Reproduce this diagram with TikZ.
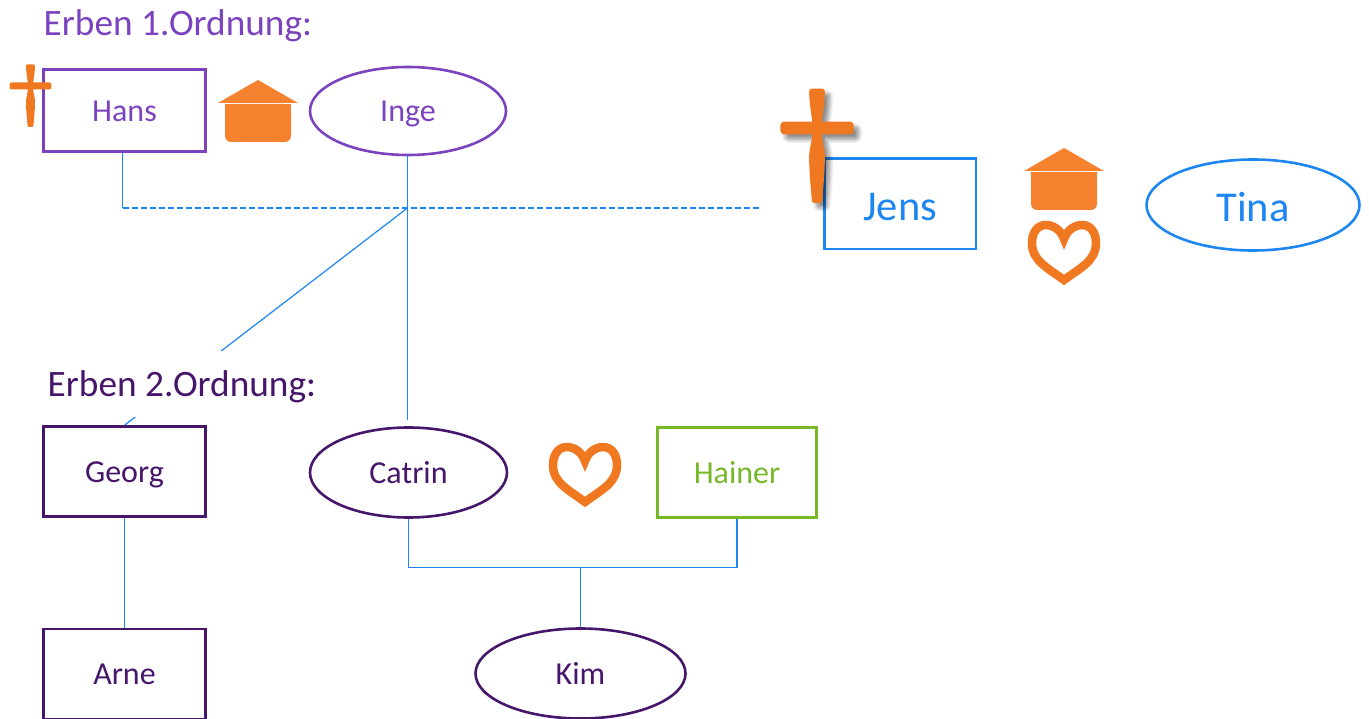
\documentclass[tikz,border=0pt]{standalone}
\usepackage{fontspec}
\setmainfont{Carlito}
\usetikzlibrary{shapes.geometric}
\usetikzlibrary{shadows.blur}
\definecolor{erbe violet}{RGB}{123,67,190}
\definecolor{erbe dark}{RGB}{70,22,107}
\definecolor{erbe blue}{RGB}{30,134,240}
\definecolor{erbe green}{RGB}{118,184,42}
\definecolor{symbol orange}{RGB}{240,120,32}
\definecolor{house orange}{RGB}{246,130,47}
\tikzset{
	kreuz action/.style={},
	kreuz/.pic={
		\path[fill=symbol orange, kreuz action]
			(-4.5,-19) .. controls (-4.5,-21) and (-4,-21.5) .. (-3,-21.5) -- (3,-21.5)
			.. controls (4,-21.5) and (4.5,-21) .. (4.5,-19)
			.. controls (4,-10) and (2.8,-6) .. (2.8,-3.5)
			-- (19,-3.5) .. controls (20.5,-3.5) and (21,-2.5) .. (21,0)
			.. controls (21,2.5) and (20.5,3.5) .. (19,3.5) -- (2.8,3.5)
			.. controls (2.8,8) and (4.5,11) .. (4.5,16)
			.. controls (4.5,24) and (3.5,33) .. (3,39)
			.. controls (3,41) and (2,41) .. (0,41)
			.. controls (-2,41) and (-3,41) .. (-3,39)
			.. controls (-3.5,33) and (-4.5,24) .. (-4.5,16)
			.. controls (-4.5,11) and (-2.8,8) .. (-2.8,3.5)
			-- (-19,3.5) .. controls (-20.5,3.5) and (-21,2.5) .. (-21,0)
			.. controls (-21,-2.5) and (-20.5,-3.5) .. (-19,-3.5) -- (-2.8,-3.5)
			.. controls (-2.8,-6) and (-4,-10) .. (-4.5,-19) -- cycle;
	},
	haus/.pic={
		\fill[house orange] (0,0) -- (40,23) -- (-40,23) -- cycle;
		\fill[house orange, rounded corners=6] (-33,24) -- (33,24) -- (33,62) -- (-33,62) -- cycle;
		\fill[house orange] (-33,24) rectangle (33,40);
	},
	herz/.pic={
		\draw[symbol orange, line width=8.5]
			(0,18) .. controls (-3,9) and (-11,4) .. (-18,4)
			.. controls (-27,4) and (-32,12) .. (-32,22)
			.. controls (-32,40) and (-16,47) .. (0,59)
			.. controls (16,47) and (32,40) .. (32,22)
			.. controls (32,12) and (27,4) .. (18,4)
			.. controls (11,4) and (3,9) .. (0,18) -- cycle;
	},
}
\begin{document}
\begin{tikzpicture}[
		x=1pt, y=-1pt,
		person box/.style={draw, line width=2.6, rectangle, inner sep=0pt},
		person oval/.style={draw, line width=2.6, ellipse, inner sep=0pt},
		heading/.style={font=\fontsize{37.3}{40}\selectfont, inner sep=0pt, text height=28, text depth=4},
		small name/.style={font=\fontsize{32}{34}\selectfont, text height=24, text depth=3},
		large name/.style={font=\fontsize{42.5}{45}\selectfont, text height=36, text depth=3},
		conn/.style={erbe blue, line width=1.2},
	]
	\useasboundingbox (0,0) rectangle (1369,719);

	% Erben 1. Ordnung
	\node[heading, erbe violet, anchor=west] (titleA) at (43.5,24) {Erben 1.Ordnung:};
	\node[person box, erbe violet, minimum width=162, minimum height=82, small name] (hans) at (124.5,110.5) {\raisebox{-1pt}{Hans}};
	\node[person oval, erbe violet, minimum width=196, minimum height=88, small name] (inge) at (408,111) {Inge};
	\node[person box, erbe blue, line width=2.2, minimum width=151.5, minimum height=90.5, large name] (jens) at (900.25,203.75) {Jens};
	\node[person oval, erbe blue, minimum width=213, minimum height=91, large name] (tina) at (1253,205) {Tina};

	% Erben 2. Ordnung
	\node[person box, erbe dark, minimum width=162, minimum height=90, small name] (georg) at (124.5,471.5) {Georg};
	\node[person oval, erbe dark, minimum width=197, minimum height=90, small name] (catrin) at (408.5,472.5) {Catrin};
	\node[person box, erbe green, minimum width=159, minimum height=90, small name] (hainer) at (737,472.5) {Hainer};
	\node[person box, erbe dark, minimum width=162, minimum height=90, small name] (arne) at (124.5,674) {Arne};
	\node[person oval, erbe dark, minimum width=210, minimum height=90, small name] (kim) at (580.5,673.5) {Kim};

	% connectors
	\coordinate (hansdown) at (122.5,208);
	\coordinate (ingedown) at (407.5,208);
	\coordinate (dashend) at (759,208);
	\coordinate (catrintop) at (407.5,420);
	\coordinate (kimjoin) at (580.5,567.5);
	\draw[conn] (hans.south -| hansdown) -- (hansdown);
	\draw[conn] (inge.south -| ingedown) -- (catrintop);
	\draw[conn, line width=2.2, dash pattern=on 6.5 off 2.5] (hansdown) -- (dashend);
	\draw[conn] (ingedown) -- (georg.north);
	\draw[conn] (georg.south) -- (arne.north);
	\draw[conn] (catrin.south) |- (kimjoin) -| (hainer.south);
	\draw[conn] (kimjoin) -- (kim.north);

	% covers the line to Georg
	\node[heading, erbe dark, anchor=west, fill=white, minimum height=66] (titleB) at (47.5,384) {Erben 2.Ordnung:};

	% symbols
	\pic (kreuzhans) at (30.5,86) {kreuz};
	\pic[xscale=1.75, yscale=1.83, kreuz action/.style={blur shadow={shadow xshift=5pt, shadow yshift=-5pt, shadow blur steps=8, shadow blur radius=4pt, shadow opacity=45}}] (kreuzjens) at (817,128) {kreuz};
	\pic (haushans) at (258,80) {haus};
	\pic (hausjens) at (1064,148) {haus};
	\pic (herzjens) at (1064,221) {herz};
	\pic (herzcatrin) at (585,443) {herz};
\end{tikzpicture}
\end{document}
